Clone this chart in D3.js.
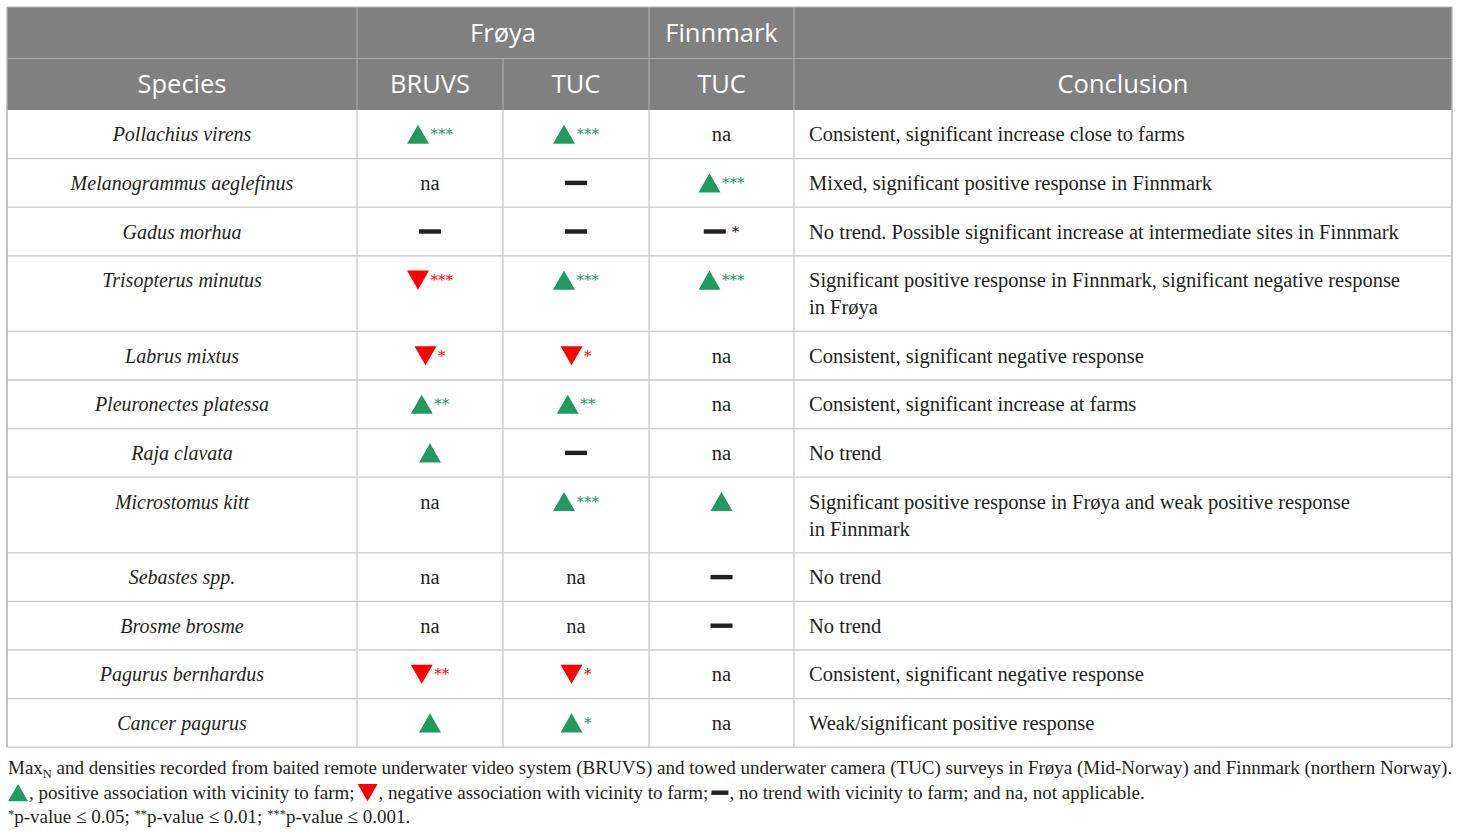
<!DOCTYPE html>
<html><head><meta charset="utf-8">
<script src="https://cdn.jsdelivr.net/npm/d3@7"></script>
<style>
html,body{margin:0;padding:0;background:#fff;}
svg{display:block;}
</style></head>
<body>
<svg id="chart" width="1460" height="833"></svg>
<script>
// ---------- DATA ----------
const regions = ["Frøya", "Finnmark"];
const columnHeaders = ["Species", "BRUVS", "TUC", "TUC", "Conclusion"];
const species = ["Pollachius virens", "Melanogrammus aeglefinus", "Gadus morhua", "Trisopterus minutus",
  "Labrus mixtus", "Pleuronectes platessa", "Raja clavata", "Microstomus kitt", "Sebastes spp.",
  "Brosme brosme", "Pagurus bernhardus", "Cancer pagurus"];
const bruvsFroya = ["up***", "na", "dash", "down***", "down*", "up**", "up", "na", "na", "na", "down**", "up"];
const tucFroya   = ["up***", "dash", "dash", "up***", "down*", "up**", "dash", "up***", "na", "na", "down*", "up*"];
const tucFinnmark= ["na", "up***", "dash*", "up***", "na", "na", "na", "up", "dash", "dash", "na", "na"];
const conclusions = [
  ["Consistent, significant increase close to farms"],
  ["Mixed, significant positive response in Finnmark"],
  ["No trend. Possible significant increase at intermediate sites in Finnmark"],
  ["Significant positive response in Finnmark, significant negative response", "in Frøya"],
  ["Consistent, significant negative response"],
  ["Consistent, significant increase at farms"],
  ["No trend"],
  ["Significant positive response in Frøya and weak positive response", "in Finnmark"],
  ["No trend"],
  ["No trend"],
  ["Consistent, significant negative response"],
  ["Weak/significant positive response"]
];
const footLine1 = " and densities recorded from baited remote underwater video system (BRUVS) and towed underwater camera (TUC) surveys in Frøya (Mid-Norway) and Finnmark (northern Norway).";
const legendItems = [["up", ", positive association with vicinity to farm; "], ["down", ", negative association with vicinity to farm; "], ["dash", ", no trend with vicinity to farm; and na, not applicable."]];
const pValues = [["*", "p-value ≤ 0.05; "], ["**", "p-value ≤ 0.01; "], ["***", "p-value ≤ 0.001."]];

// ---------- LAYOUT ----------
const svg = d3.select("#chart");
const GREEN = "#22995f", RED = "#ff0000", DARK = "#231f20", GRID = "#c9c9c9", HEAD = "#808080";
const serif = "'Liberation Serif','Times New Roman',serif";
const sans = "'Open Sans','Noto Sans',sans-serif";
const tLeft = 7, tRight = 1452, tTop = 7;
const colX = d3.scaleOrdinal().domain([0,1,2,3,4,5]).range([tLeft, 357, 503, 649, 794, tRight]);
const headH = 51.5, rowH = 48.6, lineH = 27;
const bodyFs = 20.5, speciesFs = 20;
const heights = conclusions.map(c => rowH + (c.length - 1) * lineH);
const rowTops = [tTop + 2*headH, ...d3.cumsum(heights).map(v => tTop + 2*headH + v)];
const y = d3.scaleOrdinal().domain(d3.range(rowTops.length)).range(rowTops);
const tBottom = rowTops[rowTops.length - 1];

svg.append("rect").attr("x", tLeft).attr("y", tTop).attr("width", tRight-tLeft).attr("height", 2*headH).attr("fill", HEAD);
svg.append("line").attr("x1", tLeft).attr("x2", tRight).attr("y1", tTop+headH).attr("y2", tTop+headH).attr("stroke", "#a8a8a8").attr("stroke-width", 1.2);
[1,3,4].forEach(i => svg.append("line").attr("x1", colX(i)).attr("x2", colX(i)).attr("y1", tTop).attr("y2", tTop+2*headH).attr("stroke", "#a8a8a8").attr("stroke-width", 1.2));
svg.append("line").attr("x1", colX(2)).attr("x2", colX(2)).attr("y1", tTop+headH).attr("y2", tTop+2*headH).attr("stroke", "#a8a8a8").attr("stroke-width", 1.2);

const htxt = (x, yy, t) => svg.append("text").attr("x", x).attr("y", yy).attr("text-anchor", "middle")
  .attr("font-family", sans).attr("font-size", 25.5).attr("fill", "#fff").text(t);
htxt((colX(1)+colX(3))/2, tTop + headH/2 + 9, regions[0]);
htxt((colX(3)+colX(4))/2, tTop + headH/2 + 9, regions[1]);
columnHeaders.forEach((h, i) => htxt((colX(i)+colX(i+1))/2, tTop + headH*1.5 + 9, h));

rowTops.slice(1).forEach(t => svg.append("line").attr("x1", tLeft).attr("x2", tRight).attr("y1", t).attr("y2", t).attr("stroke", GRID).attr("stroke-width", 1.3));
[0,1,2,3,4,5].forEach(i => svg.append("line").attr("x1", colX(i)).attr("x2", colX(i)).attr("y1", tTop+2*headH).attr("y2", tBottom).attr("stroke", GRID).attr("stroke-width", 1.3));
svg.append("line").attr("x1", tLeft).attr("x2", tLeft).attr("y1", tTop).attr("y2", tBottom).attr("stroke", "#b8b8b8").attr("stroke-width", 1.3);
svg.append("line").attr("x1", tRight).attr("x2", tRight).attr("y1", tTop).attr("y2", tBottom).attr("stroke", "#b8b8b8").attr("stroke-width", 1.3);
svg.append("line").attr("x1", tLeft).attr("x2", tRight).attr("y1", tTop).attr("y2", tTop).attr("stroke", "#b8b8b8").attr("stroke-width", 1);

const poly = d3.line();
function drawSymbol(g, kind, cx, cy, w) {
  w = w || 22;
  const h = w * 0.866;
  if (kind === "up") {
    g.append("path").attr("d", poly([[cx - w/2, cy + h/2], [cx + w/2, cy + h/2], [cx, cy - h/2]]) + "Z").attr("fill", GREEN);
  } else if (kind === "down") {
    g.append("path").attr("d", poly([[cx - w/2, cy - h/2], [cx + w/2, cy - h/2], [cx, cy + h/2]]) + "Z").attr("fill", RED);
  } else if (kind === "dash") {
    g.append("rect").attr("x", cx - w/2).attr("y", cy - 2.2).attr("width", w).attr("height", 4.4).attr("fill", DARK);
  }
}

function drawCell(code, cx, cy) {
  if (code === "na") {
    svg.append("text").attr("x", cx).attr("y", cy + 7).attr("text-anchor", "middle")
      .attr("font-family", serif).attr("font-size", bodyFs).attr("fill", DARK).text("na");
    return;
  }
  const kind = code.replace(/\*/g, "");
  const stars = (code.match(/\*/g) || []).join("");
  const color = kind === "up" ? GREEN : kind === "down" ? RED : DARK;
  const g = svg.append("g");
  let sw = 0, st = null;
  if (stars) {
    st = g.append("text").attr("font-family", "'DejaVu Serif',serif").attr("font-size", 15).attr("fill", color).text(stars);
    sw = st.node().getComputedTextLength();
  }
  const gap = stars ? (kind === "dash" ? 6 : 1.5) : 0;
  const total = 22 + gap + sw;
  const x0 = cx - total/2;
  drawSymbol(g, kind, x0 + 11, cy);
  if (st) st.attr("x", x0 + 22 + gap).attr("y", cy + 5);
}

const cols = [bruvsFroya, tucFroya, tucFinnmark];
species.forEach((sp, i) => {
  const cy = y(i) + rowH/2;
  svg.append("text").attr("x", (colX(0)+colX(1))/2).attr("y", cy + 7).attr("text-anchor", "middle")
    .attr("font-family", serif).attr("font-style", "italic").attr("font-size", speciesFs).attr("fill", DARK).text(sp);
  cols.forEach((c, j) => drawCell(c[i], (colX(j+1)+colX(j+2))/2, cy));
  conclusions[i].forEach((ln, k) => {
    svg.append("text").attr("x", colX(4) + 15).attr("y", cy + 7 + k*lineH)
      .attr("font-family", serif).attr("font-size", bodyFs).attr("fill", DARK).text(ln);
  });
});

// ---------- FOOTNOTES ----------
const fs = 19;
const f1 = svg.append("text").attr("x", 8).attr("y", tBottom + 27).attr("font-family", serif).attr("font-size", fs).attr("fill", DARK);
f1.append("tspan").text("Max");
f1.append("tspan").attr("font-size", 12.5).attr("dy", 4).text("N");
f1.append("tspan").attr("dy", -4).text(footLine1);

let fx = 8;
const fy2 = tBottom + 51.5;
legendItems.forEach(([kind, txt]) => {
  const w = kind === "dash" ? 17 : 20;
  drawSymbol(svg, kind, fx + w/2, fy2 - 6, w);
  const t = svg.append("text").attr("x", fx + w + 1).attr("y", fy2).attr("font-family", serif).attr("font-size", fs).attr("fill", DARK).text(txt);
  fx = fx + w + 1 + t.node().getComputedTextLength() + 3;
});

const f3 = svg.append("text").attr("x", 8).attr("y", tBottom + 76).attr("font-family", serif).attr("font-size", fs).attr("fill", DARK);
pValues.forEach(([s, t]) => {
  f3.append("tspan").attr("font-size", 12.5).attr("dy", -5).text(s);
  f3.append("tspan").attr("dy", 5).text(t);
});
</script>
</body></html>
